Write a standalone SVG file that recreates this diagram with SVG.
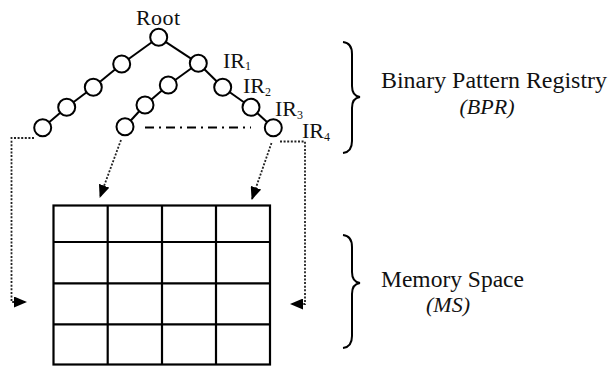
<svg xmlns="http://www.w3.org/2000/svg" width="609" height="370" viewBox="0 0 609 370">
<defs>
<style>
.edge{stroke:#000;stroke-width:2;fill:none}
.nd{fill:#fff;stroke:#000;stroke-width:2}
text{font-family:'Liberation Serif','Times New Roman',Times,serif;fill:#111}
.lbl{font-size:22px}
.sub{font-size:12px}
.big{font-size:24px}
.it{font-size:22px;font-style:italic}
.dot{stroke:#222;stroke-width:1.8;fill:none;stroke-dasharray:2 1.6}
.dashdot{stroke:#000;stroke-width:2;fill:none;stroke-dasharray:9 5 2 5}
.grid{stroke:#000;stroke-width:2.2;fill:none}
.brace{stroke:#000;stroke-width:2;fill:none}
</style>
<marker id="ah" markerWidth="13" markerHeight="11" refX="12" refY="5.5" orient="auto" markerUnits="userSpaceOnUse">
<path d="M0,0 L13,5.5 L0,11 Z" fill="#000"/>
</marker>
</defs>
<rect width="609" height="370" fill="#fff"/>

<g id="connectors">
<line class="edge" x1="158.7" y1="37.3" x2="121.7" y2="64"/>
<line class="edge" x1="121.7" y1="64" x2="93.3" y2="87.3"/>
<line class="edge" x1="93.3" y1="87.3" x2="66.7" y2="107.3"/>
<line class="edge" x1="66.7" y1="107.3" x2="42.7" y2="127.7"/>
<line class="edge" x1="158.7" y1="37.3" x2="198.3" y2="63.3"/>
<line class="edge" x1="198.3" y1="63.3" x2="222.7" y2="87.3"/>
<line class="edge" x1="222.7" y1="87.3" x2="251" y2="107.3"/>
<line class="edge" x1="251" y1="107.3" x2="273.3" y2="127.7"/>
<line class="edge" x1="198.3" y1="63.3" x2="168.3" y2="85"/>
<line class="edge" x1="168.3" y1="85" x2="145" y2="105"/>
<line class="edge" x1="145" y1="105" x2="125" y2="126.7"/>
<line class="dashdot" x1="145" y1="127.5" x2="251" y2="127.5"/>
<polyline class="dot" points="34,138 11.5,138 11.5,302 26,302" marker-end="url(#ah)"/>
<polyline class="dot" points="280,141.5 305,141.5 305,304 291,304" marker-end="url(#ah)"/>
<line class="dot" x1="121" y1="140" x2="100" y2="197" marker-end="url(#ah)"/>
<line class="dot" x1="271.5" y1="143" x2="252" y2="199" marker-end="url(#ah)"/>
</g>

<g id="root">
<circle class="nd" cx="158.7" cy="37.3" r="8.5"/>
<text class="lbl" x="136" y="25" textLength="44" lengthAdjust="spacing">Root</text>
</g>
<g id="left-chain">
<circle class="nd" cx="121.7" cy="64" r="8.5"/>
<circle class="nd" cx="93.3" cy="87.3" r="8.5"/>
<circle class="nd" cx="66.7" cy="107.3" r="8.5"/>
<circle class="nd" cx="42.7" cy="127.7" r="8.5"/>
</g>
<g id="mid-chain">
<circle class="nd" cx="168.3" cy="85" r="8.5"/>
<circle class="nd" cx="145" cy="105" r="8.5"/>
<circle class="nd" cx="125" cy="126.7" r="8.5"/>
</g>
<g id="ir1">
<circle class="nd" cx="198.3" cy="63.3" r="8.5"/>
<text class="lbl" x="223" y="68">IR<tspan class="sub" dy="2">1</tspan></text>
</g>
<g id="ir2">
<circle class="nd" cx="222.7" cy="87.3" r="8.5"/>
<text class="lbl" x="243" y="92.5">IR<tspan class="sub" dy="3">2</tspan></text>
</g>
<g id="ir3">
<circle class="nd" cx="251" cy="107.3" r="8.5"/>
<text class="lbl" x="275" y="115.5">IR<tspan class="sub" dy="3">3</tspan></text>
</g>
<g id="ir4">
<circle class="nd" cx="273.3" cy="127.7" r="8.5"/>
<text class="lbl" x="302" y="137.5">IR<tspan class="sub" dy="3">4</tspan></text>
</g>

<g id="memory-grid">
<rect class="grid" x="53.5" y="205.5" width="216.5" height="159"/>
<line class="grid" x1="107.7" y1="205.5" x2="107.7" y2="364.5"/>
<line class="grid" x1="162" y1="205.5" x2="162" y2="364.5"/>
<line class="grid" x1="216" y1="205.5" x2="216" y2="364.5"/>
<line class="grid" x1="53.5" y1="242" x2="270" y2="242"/>
<line class="grid" x1="53.5" y1="283.3" x2="270" y2="283.3"/>
<line class="grid" x1="53.5" y1="324.3" x2="270" y2="324.3"/>
</g>

<g id="bpr">
<path class="brace" d="M343,42 Q352,43 352,54 L352,86 Q352,96 360,97 Q352,98 352,108 L352,141 Q352,152 343,153"/>
<text class="big" x="381" y="88" textLength="226" lengthAdjust="spacingAndGlyphs">Binary Pattern Registry</text>
<text class="it" x="487" y="114" text-anchor="middle">(BPR)</text>
</g>
<g id="ms">
<path class="brace" d="M343,235 Q352,236 352,247 L352,272 Q352,282 360,283 Q352,284 352,294 L352,336 Q352,347 343,348"/>
<text class="big" x="381" y="287" textLength="143" lengthAdjust="spacingAndGlyphs">Memory Space</text>
<text class="it" x="448" y="312" text-anchor="middle">(MS)</text>
</g>
</svg>
